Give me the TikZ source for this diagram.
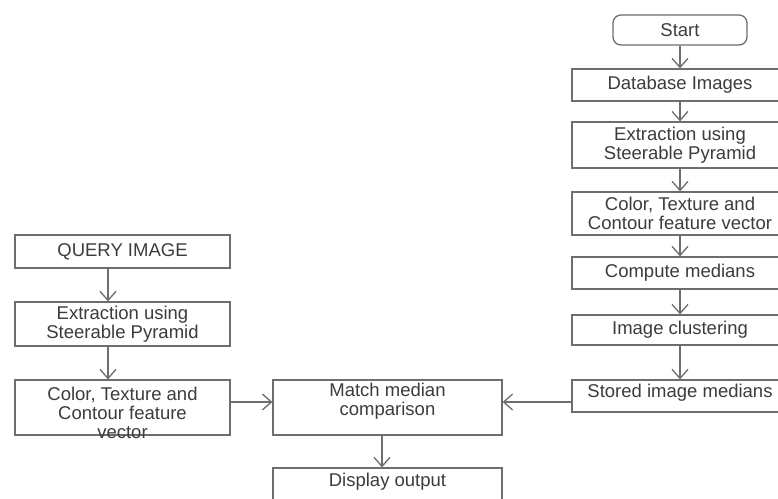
\documentclass[tikz,border=0pt]{standalone}
\usepackage{fontspec}
\setmainfont{Liberation Sans}
\usetikzlibrary{arrows.meta}
\definecolor{boxline}{HTML}{6E6E6E}
\definecolor{boxtext}{HTML}{3C3C3C}
\tikzset{
  stepbox/.style={draw=boxline,line width=1.3pt,fill=white,inner sep=0pt,
    text=boxtext,align=center,font=\fontsize{18.5}{19}\selectfont},
  startbox/.style={stepbox,rounded corners=8pt},
  boxlabel/.style={inner sep=0pt,text=boxtext,align=center,
    font=\fontsize{18.5}{19}\selectfont},
  arr/.style={draw=boxline,line width=1.3pt,
    -{Straight Barb[length=9pt,width=16pt,line width=1.3pt]}}
}
\begin{document}
\begin{tikzpicture}[x=1pt,y=1pt]
\useasboundingbox (0,0) rectangle (778,498);
\clip (0,0) rectangle (778,498);
\fill[white] (0,0) rectangle (778,498);
% Database side
\node[startbox,minimum width=134pt,minimum height=30pt] (start) at (680,468) {Start};
\node[stepbox,minimum width=216pt,minimum height=32pt] (db) at (680,413) {Database Images};
\node[stepbox,minimum width=216pt,minimum height=46pt] (ext) at (680,353) {Extraction using\\Steerable Pyramid};
\node[stepbox,minimum width=216pt,minimum height=43pt] (feat) at (680,284.5) {Color, Texture and\\Contour feature vector};
\node[stepbox,minimum width=216pt,minimum height=32pt] (med) at (680,225) {Compute medians};
\node[stepbox,minimum width=216pt,minimum height=30pt] (clu) at (680,168) {Image clustering};
\node[stepbox,minimum width=216pt,minimum height=32pt] (sto) at (680,102) {};
\node[boxlabel] (sto-t) at (680,105) {Stored image medians};
% Query side
\node[stepbox,minimum width=215pt,minimum height=33pt] (query) at (122.5,246.5) {QUERY IMAGE};
\node[stepbox,minimum width=215pt,minimum height=44pt] (qext) at (122.5,174) {Extraction using\\Steerable Pyramid};
\node[stepbox,minimum width=215pt,minimum height=55pt] (qfeat) at (122.5,90.5) {};
\node[boxlabel] (qfeat-t) at (122.5,85.5) {Color, Texture and\\Contour feature\\vector};
% Matching
\node[stepbox,minimum width=229pt,minimum height=55pt] (match) at (387.5,90.5) {};
\node[boxlabel] (match-t) at (387.5,97) {Match median\\comparison};
\node[stepbox,minimum width=229pt,minimum height=40pt] (disp) at (387.5,10) {};
\node[boxlabel] (disp-t) at (387.5,16) {Display output};
% Arrows
\draw[arr] (start) -- (db);
\draw[arr] (db) -- (ext);
\draw[arr] (ext) -- (feat);
\draw[arr] (feat) -- (med);
\draw[arr] (med) -- (clu);
\draw[arr] (clu) -- (sto);
\draw[arr] ([xshift=-14.5pt]query.south) -- ([xshift=-14.5pt]qext.north);
\draw[arr] ([xshift=-14.5pt]qext.south) -- ([xshift=-14.5pt]qfeat.north);
\draw[arr] ([yshift=5.5pt]qfeat.east) -- ([yshift=5.5pt]match.west);
\draw[arr] ([yshift=-6pt]sto.west) -- ([yshift=5.5pt]match.east);
\draw[arr] ([xshift=-5.5pt]match.south) -- ([xshift=-5.5pt]disp.north);
\end{tikzpicture}
\end{document}
